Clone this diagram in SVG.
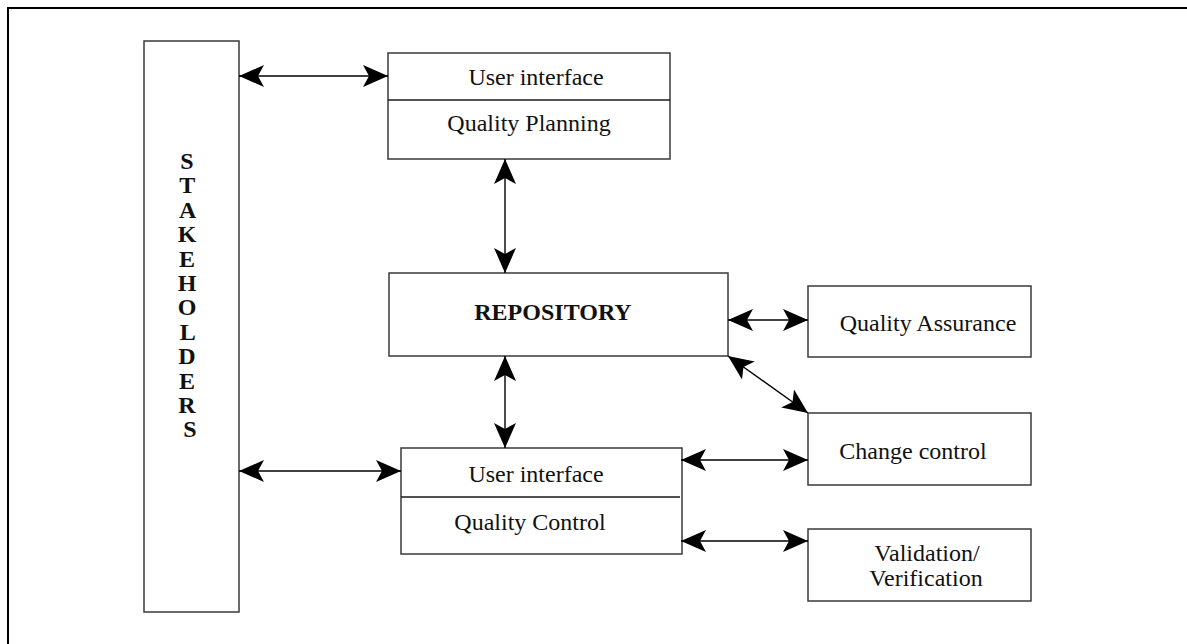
<svg xmlns="http://www.w3.org/2000/svg" width="1187" height="644" viewBox="0 0 1187 644">
  <style>
    .box { fill: #ffffff; stroke: #3a3a3a; stroke-width: 1.5; }
    .div { stroke: #1a1a1a; stroke-width: 1.3; }
    .lbl { font-family: "Liberation Serif", "Times New Roman", serif; font-size: 24px; fill: #111; text-anchor: middle; }
    .bold { font-weight: bold; }
    .conn { stroke: #000; stroke-width: 1.4; fill: none; marker-start: url(#head); marker-end: url(#head); }
  </style>
  <defs>
    <!-- notched solid arrowhead, tip at the path end -->
    <marker id="head" viewBox="-26 -12 27 24" refX="0" refY="0" markerWidth="27" markerHeight="24" markerUnits="userSpaceOnUse" orient="auto-start-reverse" overflow="visible">
      <path d="M0,0 L-25,-11 L-19,0 L-25,11 Z" fill="#000"/>
    </marker>
  </defs>

  <rect width="1187" height="644" fill="#ffffff"/>
  <!-- outer frame -->
  <rect x="8" y="8" width="1200" height="700" fill="none" stroke="#000" stroke-width="2"/>

  <g id="stakeholders">
    <rect class="box" x="144" y="41" width="95" height="571"/>
    <text class="lbl bold" x="190">
      <tspan x="190" y="169">S</tspan>
      <tspan x="190" y="193.4">T</tspan>
      <tspan x="190" y="217.8">A</tspan>
      <tspan x="190" y="242.2">K</tspan>
      <tspan x="190" y="266.6">E</tspan>
      <tspan x="190" y="291">H</tspan>
      <tspan x="190" y="315.4">O</tspan>
      <tspan x="190" y="339.8">L</tspan>
      <tspan x="190" y="364.2">D</tspan>
      <tspan x="190" y="388.6">E</tspan>
      <tspan x="190" y="413">R</tspan>
      <tspan x="190" y="437.4">S</tspan>
    </text>
  </g>

  <g id="quality-planning">
    <rect class="box" x="388" y="53" width="282" height="106"/>
    <line class="div" x1="388" y1="100" x2="670" y2="100"/>
    <text class="lbl" x="536" y="85">User interface</text>
    <text class="lbl" x="529" y="131">Quality Planning</text>
  </g>

  <g id="repository">
    <rect class="box" x="389" y="273" width="339" height="83"/>
    <text class="lbl bold" x="553" y="320">REPOSITORY</text>
  </g>

  <g id="quality-assurance">
    <rect class="box" x="808" y="286" width="223" height="71"/>
    <text class="lbl" x="928" y="331">Quality Assurance</text>
  </g>

  <g id="change-control">
    <rect class="box" x="808" y="413" width="223" height="72"/>
    <text class="lbl" x="913" y="459">Change control</text>
  </g>

  <g id="quality-control">
    <rect class="box" x="401" y="448" width="281" height="106"/>
    <line class="div" x1="401" y1="497" x2="680" y2="497"/>
    <text class="lbl" x="536" y="482">User interface</text>
    <text class="lbl" x="530" y="530">Quality Control</text>
  </g>

  <g id="validation">
    <rect class="box" x="808" y="529" width="223" height="72"/>
    <text class="lbl" x="927" y="561">Validation/</text>
    <text class="lbl" x="926" y="586">Verification</text>
  </g>

  <g id="connectors">
    <line class="conn" x1="239" y1="76" x2="388" y2="76"/>
    <line class="conn" x1="505" y1="159" x2="505" y2="273"/>
    <line class="conn" x1="728" y1="320" x2="808" y2="320"/>
    <line class="conn" x1="728" y1="356" x2="808" y2="413"/>
    <line class="conn" x1="505" y1="356" x2="505" y2="448"/>
    <line class="conn" x1="239" y1="471" x2="401" y2="471"/>
    <line class="conn" x1="681" y1="460" x2="808" y2="460"/>
    <line class="conn" x1="681" y1="541" x2="808" y2="541"/>
  </g>
</svg>
